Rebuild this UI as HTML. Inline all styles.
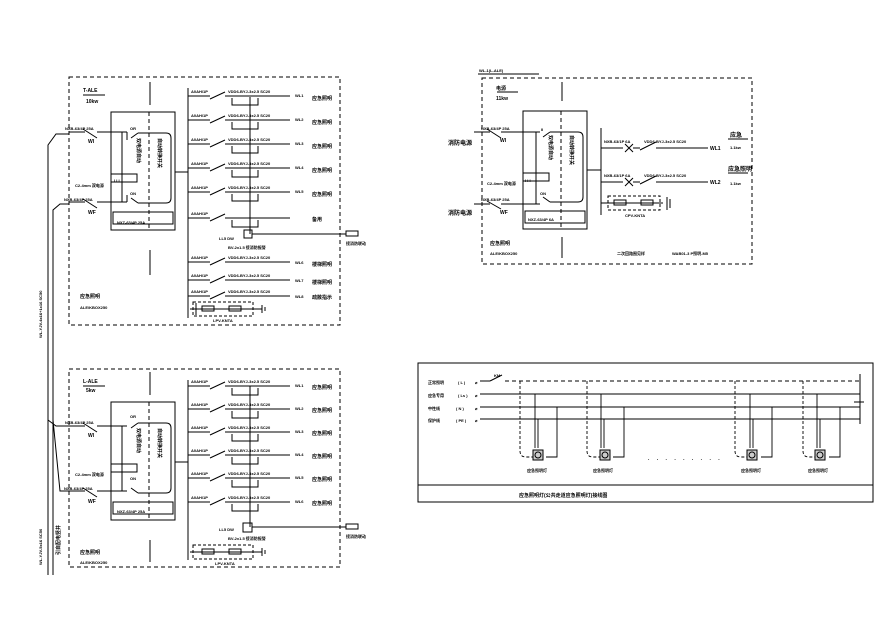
<!DOCTYPE html>
<html><head><meta charset="utf-8"><style>
html,body{margin:0;padding:0;background:#fff}
svg{display:block}
text{font-family:"Liberation Sans","Noto Sans CJK SC",sans-serif;fill:#000;font-weight:bold}
.s{font-size:4px}.m{font-size:5px}.l{font-size:6px;font-weight:bold}
</style></head><body>
<svg width="890" height="623" viewBox="0 0 890 623" xmlns="http://www.w3.org/2000/svg">
<defs>
<g id="br" fill="none" stroke="#000" stroke-width="1">
<path d="M0 0H22M22 3L37 -4M37 0H102"/>
<path d="M44 2V9H70V2"/>
</g>
<g id="brs" fill="none" stroke="#000" stroke-width="1">
<path d="M0 0H22M22 3L37 -4M37 0H102"/>
</g>
<g id="ats" fill="none" stroke="#000" stroke-width="1">
<rect x="0" y="0" width="64" height="118"/>
<path d="M38 0V118" stroke-dasharray="4,3"/>
<path d="M27 21H55Q60 21 60 26V86Q60 91 55 91H27" />
<path d="M27 21L20 26M27 91L20 86"/>
<rect x="2" y="100" width="60" height="12"/>
<rect x="0" y="62" width="26" height="8"/>
</g>
<g id="unit" fill="none" stroke="#000" stroke-width="1">
<rect x="0" y="0" width="10" height="10" fill="#ccc"/>
<circle cx="5" cy="5" r="3"/>
</g>
</defs>

<g fill="none" stroke="#000" stroke-width="1">
<path d="M48 575V145L56 134H69M53 575V210L60 204H69"/>
<path d="M48 145V420M53 210V420"/>
<path d="M48 420L56 426H69M53 420L60 491H69" />
</g>
<text class="s" transform="translate(42,338) rotate(-90)">WL-YJV-4x16+1x16 SC50</text>
<text class="s" transform="translate(42,565) rotate(-90)">WL-YJV-5x16 SC50</text>
<text class="m" transform="translate(60,555) rotate(-90)">引自配电竖井</text>

<!-- Panel 1 -->
<g fill="none" stroke="#000" stroke-width="1">
<rect x="69" y="77" width="271" height="248" stroke-dasharray="4,3"/>
<path d="M83 95H105M150 82V105M150 250V275"/>
<path d="M69 132H85M83 129L97 138M97 132H127M69 202H85M83 199L97 208M97 202H127M122 132V202M127 132V140M127 202V195"/>
<path d="M175 172H188M188 88V318"/>
<path d="M250 97V234M252 234H346"/>
<rect x="244" y="230" width="8" height="8"/>
<rect x="346" y="231" width="12" height="5"/>
<path d="M190 309H262M196 303V315M262 305V313M265 307V311" />
<rect x="193" y="302" width="60" height="14" stroke-dasharray="3,2"/>
<rect x="202" y="306" width="12" height="5"/><rect x="229" y="306" width="12" height="5"/>
</g>
<use href="#ats" x="111" y="112"/>
<use href="#br" x="188" y="96"/><use href="#br" x="188" y="120"/><use href="#br" x="188" y="144"/>
<use href="#br" x="188" y="168"/><use href="#br" x="188" y="192"/><use href="#br" x="188" y="218"/>
<use href="#brs" x="188" y="262"/><use href="#brs" x="188" y="280"/><use href="#brs" x="188" y="296"/>
<text class="m" x="83" y="92">T-ALE</text><text class="m" x="86" y="103">10kw</text>
<text class="s" x="65" y="130">NXB-63/4P 25A</text><text class="m" x="88" y="143">WI</text>
<text class="s" x="64" y="201">NXB-63/4P 25A</text><text class="m" x="88" y="214">WF</text>
<text class="s" x="75" y="187">C2-4mm 双电源</text>
<text class="s" x="130" y="130">OR</text><text class="s" x="130" y="195">ON</text>
<text class="s" x="117" y="224">NXZ-63/4P 25A</text><text class="s" x="114" y="182">I I I</text>
<text class="m" transform="translate(137,138) rotate(90)">双电源自动</text>
<text class="m" transform="translate(158,138) rotate(90)">自动转换开关</text>
<text class="m" x="80" y="298">应急照明</text><text class="s" x="80" y="309">ALE/KBOX250</text>
<text class="s" x="219" y="240">LL5 DW</text><text class="s" x="228" y="249">BV-2x1.5 接消防报警</text>
<text class="s" x="346" y="245">接消防联动</text>
<text class="s" x="213" y="322">LPV-KNTA</text>
<g class="s">
<text x="191" y="93">A0AH/1P</text><text x="228" y="93">VDD6-BYJ-3x2.5 SC20</text>
<text x="191" y="117">A0AH/1P</text><text x="228" y="117">VDD6-BYJ-3x2.5 SC20</text>
<text x="191" y="141">A0AH/1P</text><text x="228" y="141">VDD6-BYJ-3x2.5 SC20</text>
<text x="191" y="165">A0AH/1P</text><text x="228" y="165">VDD6-BYJ-3x2.5 SC20</text>
<text x="191" y="189">A0AH/1P</text><text x="228" y="189">VDD6-BYJ-3x2.5 SC20</text>
<text x="191" y="215">A0AH/1P</text>
<text x="191" y="259">A0AH/1P</text><text x="228" y="259">VDD6-BYJ-3x2.5 SC20</text>
<text x="191" y="277">A0AH/1P</text><text x="228" y="277">VDD6-BYJ-3x2.5 SC20</text>
<text x="191" y="293">A0AH/1P</text><text x="228" y="293">VDD6-BYJ-3x2.5 SC20</text>
<text x="295" y="97">WL1</text><text x="295" y="121">WL2</text><text x="295" y="145">WL3</text>
<text x="295" y="169">WL4</text><text x="295" y="193">WL5</text>
<text x="295" y="264">WL6</text><text x="295" y="282">WL7</text><text x="295" y="298">WL8</text>
</g>
<g class="m">
<text x="312" y="100">应急照明</text><text x="312" y="124">应急照明</text><text x="312" y="148">应急照明</text>
<text x="312" y="172">应急照明</text><text x="312" y="196">应急照明</text><text x="312" y="221">备用</text>
<text x="312" y="266">楼梯照明</text><text x="312" y="284">楼梯照明</text><text x="312" y="299">疏散指示</text>
</g>

<!-- Panel 2 -->
<g fill="none" stroke="#000" stroke-width="1">
<rect x="69" y="369" width="271" height="198" stroke-dasharray="4,3"/>
<path d="M83 386H105M150 372V395M150 540V562"/>
<path d="M69 426H85M83 423L97 432M97 426H127M69 491H85M83 488L97 497M97 491H127M122 426V491"/>
<path d="M175 462H188M188 380V560"/>
<path d="M250 386V527M252 527H346"/>
<rect x="243" y="523" width="9" height="9"/>
<rect x="346" y="524" width="12" height="5"/>
<path d="M190 552H262M262 548V556M265 550V554"/>
<rect x="193" y="545" width="60" height="14" stroke-dasharray="3,2"/>
<rect x="202" y="549" width="12" height="5"/><rect x="229" y="549" width="12" height="5"/>
</g>
<use href="#ats" x="111" y="402"/>
<use href="#br" x="188" y="386"/><use href="#br" x="188" y="409"/><use href="#br" x="188" y="432"/>
<use href="#br" x="188" y="455"/><use href="#br" x="188" y="478"/><use href="#br" x="188" y="502"/>
<text class="m" x="83" y="383">L-ALE</text><text class="m" x="86" y="392">5kw</text>
<text class="s" x="65" y="424">NXB-63/4P 25A</text><text class="m" x="88" y="437">WI</text>
<text class="s" x="64" y="490">NXB-63/4P 25A</text><text class="m" x="88" y="503">WF</text>
<text class="s" x="75" y="476">C2-4mm 双电源</text>
<text class="s" x="130" y="418">OR</text><text class="s" x="130" y="480">ON</text>
<text class="s" x="117" y="513">NXZ-63/4P 25A</text>
<text class="m" transform="translate(137,428) rotate(90)">双电源自动</text>
<text class="m" transform="translate(158,428) rotate(90)">自动转换开关</text>
<text class="m" x="80" y="554">应急照明</text><text class="s" x="80" y="564">ALE/KBOX250</text>
<text class="s" x="219" y="531">LL5 DW</text><text class="s" x="228" y="540">BV-2x1.5 接消防报警</text>
<text class="s" x="346" y="538">接消防联动</text>
<text class="s" x="215" y="565">LPV-KNTA</text>
<g class="s">
<text x="191" y="383">A0AH/1P</text><text x="228" y="383">VDD6-BYJ-3x2.5 SC20</text>
<text x="191" y="406">A0AH/1P</text><text x="228" y="406">VDD6-BYJ-3x2.5 SC20</text>
<text x="191" y="429">A0AH/1P</text><text x="228" y="429">VDD6-BYJ-3x2.5 SC20</text>
<text x="191" y="452">A0AH/1P</text><text x="228" y="452">VDD6-BYJ-3x2.5 SC20</text>
<text x="191" y="475">A0AH/1P</text><text x="228" y="475">VDD6-BYJ-3x2.5 SC20</text>
<text x="191" y="499">A0AH/1P</text><text x="228" y="499">VDD6-BYJ-3x2.5 SC20</text>
<text x="295" y="387">WL1</text><text x="295" y="410">WL2</text><text x="295" y="433">WL3</text>
<text x="295" y="456">WL4</text><text x="295" y="479">WL5</text><text x="295" y="503">WL6</text>
</g>
<g class="m">
<text x="312" y="389">应急照明</text><text x="312" y="412">应急照明</text><text x="312" y="435">应急照明</text>
<text x="312" y="458">应急照明</text><text x="312" y="481">应急照明</text><text x="312" y="505">应急照明</text>
</g>

<!-- Panel 3 -->
<g fill="none" stroke="#000" stroke-width="1">
<path d="M478 74H539"/>
<rect x="482" y="78" width="270" height="186" stroke-dasharray="4,3"/>
<path d="M497 92H518M562 82V101M562 237V258"/>
<path d="M474 132H490M487 129L501 138M501 132H540M474 204H490M487 201L501 209M501 204H540M536 132V204"/>
<path d="M587 170H601M601 128V215"/>
<path d="M601 148H623M625 144L633 152M633 144L625 152M633 148H640M640 150L656 142M656 148H708"/>
<path d="M601 182H623M625 178L633 186M633 178L625 186M633 182H640M640 184L656 176M656 182H708"/>
<path d="M601 203H663M667 197V210M670 199V208"/>
<rect x="608" y="196" width="52" height="14" stroke-dasharray="3,2"/>
<rect x="614" y="200" width="12" height="5"/><rect x="641" y="200" width="12" height="5"/>
<path d="M728 139H748M728 173H748"/>
</g>
<use href="#ats" x="523" y="111"/>
<text class="s" x="479" y="72">WL-1(L-ALE)</text>
<text class="m" x="496" y="90">电源</text><text class="m" x="496" y="100">11kw</text>
<text class="s" x="481" y="130">NXB-63/4P 25A</text><text class="m" x="500" y="142">WI</text>
<text class="s" x="481" y="201">NXB-63/4P 25A</text><text class="m" x="500" y="214">WF</text>
<text class="l" x="448" y="145">消防电源</text><text class="l" x="448" y="215">消防电源</text>
<text class="s" x="487" y="185">C2-4mm 双电源</text>
<text class="s" x="541" y="131">II</text><text class="s" x="540" y="195">ON</text>
<text class="s" x="528" y="221">NXZ-63/4P 6A</text><text class="s" x="525" y="182">I I I</text>
<text class="m" transform="translate(549,135) rotate(90)">双电源自动</text>
<text class="m" transform="translate(570,135) rotate(90)">自动转换开关</text>
<text class="s" x="604" y="143">NXB-63/1P 6A</text><text class="s" x="644" y="143">VDD6-BYJ-3x2.5 SC20</text>
<text class="s" x="604" y="177">NXB-63/1P 6A</text><text class="s" x="644" y="177">VDD6-BYJ-3x2.5 SC20</text>
<text class="m" x="710" y="150">WL1</text><text class="m" x="710" y="184">WL2</text>
<text class="l" x="730" y="137">应急</text><text class="s" x="730" y="149">1.1kw</text>
<text class="l" x="728" y="171">应急照明</text><text class="s" x="730" y="185">1.1kw</text>
<text class="s" x="625" y="217">CPV-KNTA</text>
<text class="m" x="490" y="245">应急照明</text><text class="s" x="490" y="255">ALE/KBOX250</text>
<text class="s" x="617" y="255">二次回路图见样</text><text class="s" x="672" y="255">WAB01-3 P照明-M5</text>

<!-- Panel 4 -->
<g fill="none" stroke="#000" stroke-width="1">
<rect x="418" y="363" width="455" height="139"/>
<path d="M418 485H873"/>
<path d="M480 381H490M490 381L502 375"/>
<path d="M505 381H860" stroke-dasharray="4,3"/>
<path d="M480 394H860M480 407H860M480 419H860M860 374V424M854 402H864"/>
</g>
<g fill="none" stroke="#000" stroke-width="0.9">
<path d="M520 381V451Q520 457 526 457H533" stroke-dasharray="3,2"/>
<path d="M535 394V448M538 419V448M557 407V457H546"/>
<path d="M587 381V451Q587 457 593 457H600" stroke-dasharray="3,2"/>
<path d="M601 394V448M604 419V448M624 407V457H613"/>
<path d="M735 381V451Q735 457 741 457H748" stroke-dasharray="3,2"/>
<path d="M750 394V448M753 419V448M772 407V457H761"/>
<path d="M803 381V451Q803 457 809 457H816" stroke-dasharray="3,2"/>
<path d="M817 394V448M820 419V448M840 407V457H829"/>
</g>
<use href="#unit" x="533" y="450"/><use href="#unit" x="600" y="450"/>
<use href="#unit" x="747" y="450"/><use href="#unit" x="815" y="450"/>
<text class="m" x="648" y="460" letter-spacing="3">. . .   . . .   . . .</text>
<text class="s" x="527" y="472">应急照明灯</text><text class="s" x="593" y="472">应急照明灯</text>
<text class="s" x="741" y="472">应急照明灯</text><text class="s" x="808" y="472">应急照明灯</text>
<g class="s">
<text x="428" y="384">正常照明</text><text x="458" y="384">( L )</text><text x="475" y="384">⌀</text>
<text x="428" y="397">应急专用</text><text x="458" y="397">( Ls )</text><text x="475" y="397">⌀</text>
<text x="428" y="410">中性线</text><text x="456" y="410">( N )</text><text x="475" y="410">⌀</text>
<text x="428" y="422">保护线</text><text x="456" y="422">( PE )</text><text x="475" y="422">⌀</text>
<text x="494" y="377">KM</text>
</g>
<text class="m" x="519" y="497">应急照明灯(公共走道应急照明灯)接线图</text>
</svg>
</body></html>
